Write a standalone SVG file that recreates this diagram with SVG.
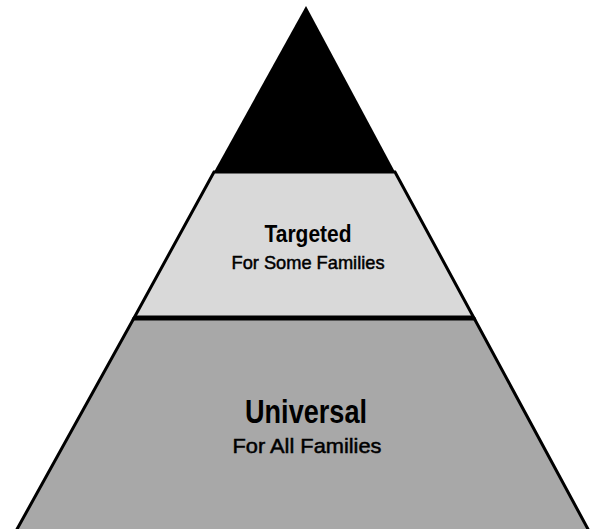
<svg xmlns="http://www.w3.org/2000/svg" width="592" height="529" viewBox="0 0 592 529">
<style>
.edge{stroke:#000;stroke-width:3;stroke-linejoin:miter;}
.t{font-family:"Liberation Sans",Arial,sans-serif;fill:#000;text-anchor:middle;}
.b{font-weight:bold;}
.s{stroke:#000;stroke-width:0.5;}
</style>
<rect x="0" y="0" width="592" height="529" fill="#fff"/>
<g id="tier-top">
<polygon points="306,6 214,172 395,172" fill="#000"/>
</g>
<g id="tier-targeted">
<polygon points="214,172 395,172 474,318 134,318" fill="#d9d9d9" class="edge"/>
<text class="t b" x="308" y="242" font-size="23" textLength="87" lengthAdjust="spacingAndGlyphs">Targeted</text>
<text class="t s" x="308" y="269" font-size="19" textLength="153" lengthAdjust="spacingAndGlyphs">For Some Families</text>
</g>
<g id="tier-universal">
<polygon points="134,318 474,318 589,531 16,531" fill="#a8a8a8" class="edge"/>
<line x1="134" y1="318" x2="474" y2="318" stroke="#000" stroke-width="5"/>
<text class="t b" x="306" y="423" font-size="33" textLength="122" lengthAdjust="spacingAndGlyphs">Universal</text>
<text class="t s" x="307" y="453" font-size="21" textLength="149" lengthAdjust="spacingAndGlyphs">For All Families</text>
</g>
<g id="connectors"/>
</svg>
